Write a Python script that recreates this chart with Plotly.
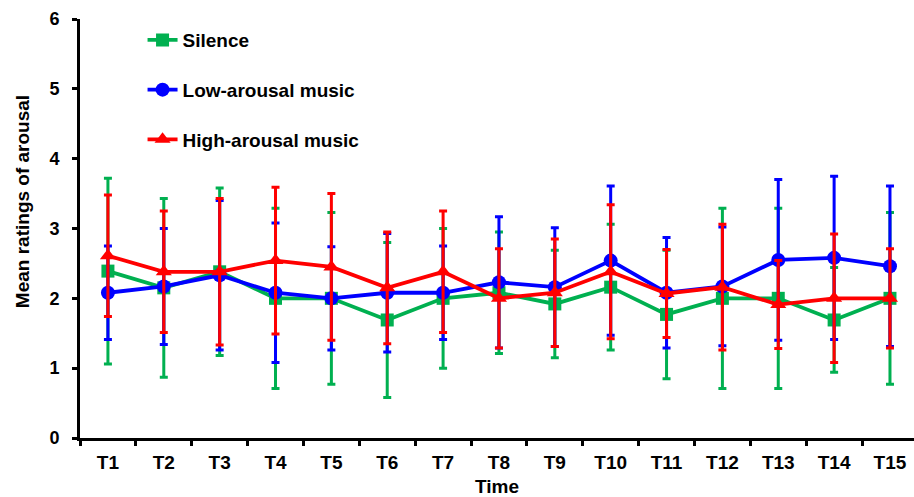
import plotly.graph_objects as go

times = [f"T{i}" for i in range(1, 16)]

silence_mean = [2.39, 2.15, 2.38, 2.00, 2.00, 1.69, 2.00, 2.08, 1.92, 2.16, 1.77, 2.00, 2.00, 1.69, 2.00]
silence_err = [1.33, 1.28, 1.20, 1.29, 1.23, 1.11, 1.00, 0.87, 0.77, 0.90, 0.92, 1.29, 1.29, 0.75, 1.23]

low_mean = [2.08, 2.17, 2.33, 2.08, 2.00, 2.08, 2.08, 2.23, 2.16, 2.54, 2.08, 2.17, 2.55, 2.58, 2.46]
low_err = [0.67, 0.83, 1.07, 1.00, 0.74, 0.85, 0.67, 0.94, 0.85, 1.07, 0.79, 0.85, 1.15, 1.17, 1.15]

high_mean = [2.61, 2.38, 2.38, 2.54, 2.45, 2.15, 2.38, 2.00, 2.08, 2.38, 2.07, 2.16, 1.91, 2.00, 2.00]
high_err = [0.87, 0.87, 1.05, 1.05, 1.05, 0.80, 0.87, 0.71, 0.77, 0.96, 0.63, 0.90, 0.63, 0.92, 0.71]

y_ticks = [0, 1, 2, 3, 4, 5, 6]

y_title = "Mean ratings of arousal"
x_title = "Time"

font_family = "Liberation Sans, Arial, sans-serif"

series = [
    ("Silence", silence_mean, silence_err, "#00B050", "square", 13),
    ("Low-arousal music", low_mean, low_err, "#0000FF", "circle", 14),
    ("High-arousal music", high_mean, high_err, "#FF0000", "triangle-up", 14),
]

fig = go.Figure()
for i, (name, m, e, c, sym, sz) in enumerate(series):
    fig.add_trace(go.Scatter(
        x=times, y=m, name=name, mode="lines+markers",
        line=dict(color=c, width=3.8),
        marker=dict(color=c, symbol=sym, size=sz),
        error_y=dict(type="data", array=e, visible=True, color=c, thickness=3, width=4),
        legendgroup=f"g{i}",
    ))

bold = dict(family=font_family, color="black", weight="bold")

fig.update_layout(
    width=914, height=497,
    margin=dict(l=80, r=0, t=19, b=59, autoexpand=False),
    paper_bgcolor="white", plot_bgcolor="white",
    font=dict(family=font_family, size=16, color="black"),
    showlegend=True,
    legend=dict(
        x=0.075, y=0.995, xanchor="left", yanchor="top",
        bgcolor="rgba(0,0,0,0)",
        font=dict(size=19, **bold),
        tracegroupgap=22, traceorder="grouped",
        itemwidth=30,
    ),
    xaxis=dict(
        type="category", range=[-0.5, 14.43],
        showline=True, linecolor="black", linewidth=3,
        ticks="outside", ticklen=5, tickwidth=3, tickcolor="black",
        tickson="boundaries", showgrid=False, zeroline=False,
        tickfont=dict(size=19, **bold),
        ticklabelstandoff=5,
        title=dict(text=x_title, font=dict(size=19, **bold), standoff=10),
        automargin=False,
    ),
    yaxis=dict(
        range=[0, 6], tickvals=y_ticks,
        showline=True, linecolor="black", linewidth=3,
        ticks="outside", ticklen=5, tickwidth=3, tickcolor="black",
        showgrid=False, zeroline=False,
        tickfont=dict(size=18, **bold),
        ticklabelstandoff=9,
        automargin=False,
    ),
    annotations=[dict(
        text=y_title, textangle=-90, showarrow=False,
        xref="paper", yref="paper", x=-0.0695, y=0.563,
        xanchor="center", yanchor="middle",
        font=dict(size=19, **bold),
    )],
)

fig.write_html("out.html", config={"displayModeBar": False},
               post_script="document.body.style.margin='0';")
